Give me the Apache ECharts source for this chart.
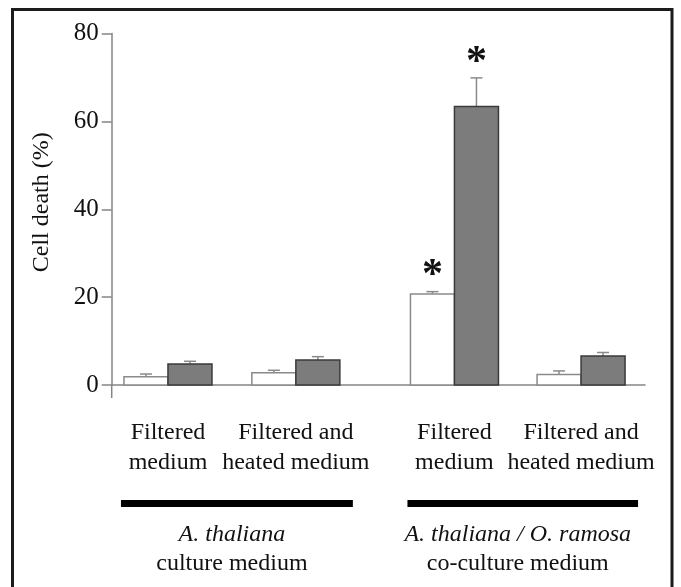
<!DOCTYPE html>
<html><head><meta charset="utf-8">
<script src="https://cdn.jsdelivr.net/npm/echarts@6/dist/echarts.min.js"></script>
<style>html,body{margin:0;padding:0;background:#fff}#c{width:681px;height:587px}</style>
</head><body><div id="c"></div>
<script>
// ---- data ----
const groupLabels = ['Filtered\nmedium', 'Filtered and\nheated medium', 'Filtered\nmedium', 'Filtered and\nheated medium'];
const mediumSpecies = ['A. thaliana', 'A. thaliana / O. ramosa'];
const mediumTypes = ['culture medium', 'co-culture medium'];
const mediumGroups = [[0, 1], [2, 3]];
const whiteValues = [1.9, 2.8, 20.7, 2.4];
const whiteErrors = [0.6, 0.55, 0.55, 0.8];
const greyValues = [4.8, 5.7, 63.4, 6.6];
const greyErrors = [0.6, 0.75, 6.5, 0.8];
const whiteSignificant = [false, false, true, false];
const greySignificant = [false, false, true, false];
const yTicks = [0, 20, 40, 60, 80];
const yAxisTitle = 'Cell death (%)';

// ---- layout ----
const groupPos = [0.44, 1.44, 2.68, 3.67];
const X_MAX = 4.17;
const BAR_W = 44;
const FONT = '"Liberation Serif", "Times New Roman", serif';
const AXIS_COLOR = '#858585';
const TEXT_COLOR = '#111111';

function renderBars(params, api) {
  const i = api.value(0);
  const base = api.coord([groupPos[i], 0]);
  const cx = base[0], y0 = base[1];
  const children = [];
  if (i === 0) {
    const o = api.coord([0, 0]);
    children.push({type: 'line', shape: {x1: o[0], y1: o[1], x2: o[0], y2: o[1] + 13}, style: {stroke: AXIS_COLOR, lineWidth: 1.5}});
  }
  const specs = [
    {v: whiteValues[i], e: whiteErrors[i], sig: whiteSignificant[i], x: cx - BAR_W, fill: '#ffffff', stroke: '#8a8a8a'},
    {v: greyValues[i], e: greyErrors[i], sig: greySignificant[i], x: cx, fill: '#7c7c7c', stroke: '#3a3a3a'}
  ];
  specs.forEach(s => {
    const top = api.coord([groupPos[i], s.v])[1];
    const cap = api.coord([groupPos[i], s.v + s.e])[1];
    const mid = s.x + BAR_W / 2;
    children.push({type: 'line', shape: {x1: mid, y1: top, x2: mid, y2: cap}, style: {stroke: '#8a8a8a', lineWidth: 1.5}});
    children.push({type: 'line', shape: {x1: mid - 6, y1: cap, x2: mid + 6, y2: cap}, style: {stroke: '#8a8a8a', lineWidth: 1.5}});
    children.push({type: 'rect', shape: {x: s.x, y: top, width: BAR_W, height: y0 - top}, style: {fill: s.fill, stroke: s.stroke, lineWidth: 1.5}});
    if (s.sig) {
      children.push({type: 'text', style: {text: '*', x: mid, y: cap - 15, align: 'center', verticalAlign: 'middle',
        font: 'bold 42px ' + FONT, fill: '#111'}});
    }
  });
  return {type: 'group', children};
}

function renderGroupLabels(params, api) {
  const i = api.value(0);
  const p = api.coord([groupPos[i], 0]);
  return {type: 'text', style: {text: groupLabels[i], x: p[0], y: p[1] + 33, align: 'center', verticalAlign: 'top',
    fontFamily: FONT, fontSize: 24, lineHeight: 29.5, fill: TEXT_COLOR}};
}

function renderMedium(params, api) {
  const m = api.value(0);
  const a = api.coord([groupPos[mediumGroups[m][0]], 0]);
  const b = api.coord([groupPos[mediumGroups[m][1]], 0]);
  const y0 = a[1];
  const x1 = a[0] - 47, x2 = b[0] + 57;
  return {type: 'group', children: [
    {type: 'rect', shape: {x: x1, y: y0 + 115, width: x2 - x1, height: 7}, style: {fill: '#000'}},
    {type: 'text', style: {text: '{i|' + mediumSpecies[m] + '}\n' + mediumTypes[m], x: (a[0] + b[0]) / 2, y: y0 + 135,
      align: 'center', verticalAlign: 'top', fontFamily: FONT, fontSize: 24, lineHeight: 29, fill: TEXT_COLOR,
      rich: {i: {fontFamily: FONT, fontSize: 24, fontStyle: 'italic', lineHeight: 29, fill: TEXT_COLOR}}}}
  ]};
}

const chart = echarts.init(document.getElementById('c'), null, {renderer: 'canvas'});
chart.setOption({
  animation: false,
  backgroundColor: '#ffffff',
  grid: {left: 111.7, right: 36, top: 33.5, bottom: 202, containLabel: false},
  xAxis: {type: 'value', min: 0, max: X_MAX, axisLine: {show: true, onZero: false, lineStyle: {color: AXIS_COLOR, width: 1.5}},
    axisTick: {show: false}, axisLabel: {show: false}, splitLine: {show: false}},
  yAxis: {type: 'value', min: yTicks[0], max: yTicks[yTicks.length - 1], interval: yTicks[1] - yTicks[0],
    axisLine: {show: true, lineStyle: {color: AXIS_COLOR, width: 1.5}},
    axisTick: {show: true, inside: false, length: 10, lineStyle: {color: AXIS_COLOR, width: 1.5}},
    axisLabel: {margin: 13, fontFamily: FONT, fontSize: 25, color: TEXT_COLOR},
    splitLine: {show: false},
    name: yAxisTitle, nameLocation: 'middle', nameGap: 58,
    nameTextStyle: {fontFamily: FONT, fontSize: 24, color: TEXT_COLOR, padding: [0, 0, 0, 14]}},
  graphic: [{type: 'rect', shape: {x: 12.5, y: 9.5, width: 659.5, height: 600}, style: {fill: 'none', stroke: '#1c1c1c', lineWidth: 3}, silent: true}],
  series: [
    {type: 'custom', clip: false, silent: true, data: groupLabels.map((_, i) => [i]), renderItem: renderBars},
    {type: 'custom', clip: false, silent: true, data: groupLabels.map((_, i) => [i]), renderItem: renderGroupLabels},
    {type: 'custom', clip: false, silent: true, data: mediumSpecies.map((_, i) => [i]), renderItem: renderMedium}
  ]
});
</script></body></html>
